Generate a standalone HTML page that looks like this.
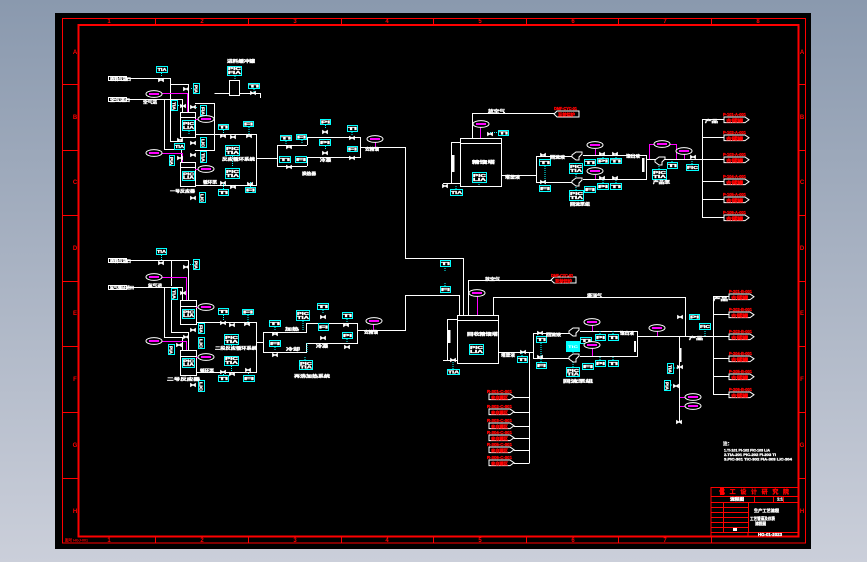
<!DOCTYPE html>
<html>
<head>
<meta charset="utf-8">
<style>
html,body{margin:0;padding:0;width:867px;height:562px;overflow:hidden;background:#a8b2c2}
svg{display:block}
text{font-family:"Liberation Sans","Noto Sans CJK SC",sans-serif;font-weight:bold}
.w{stroke:#fff;stroke-width:1;fill:none;shape-rendering:crispEdges}
.m{stroke:#f0f;stroke-width:1;fill:none;shape-rendering:crispEdges}
.r{stroke:#f00;fill:none;shape-rendering:crispEdges}
.c rect{stroke:#0ff;stroke-width:1;fill:#000;shape-rendering:crispEdges}
.t text{fill:#fff;stroke:#fff;stroke-width:.35px;font-size:4.2px}
.lr text{fill:#f00;stroke:#f00;stroke-width:.35px;font-size:4.2px}
.z text{fill:#f00;font-size:6px;text-anchor:middle}
.d{stroke:#0ff;stroke-width:1;stroke-dasharray:1 1;fill:none;shape-rendering:crispEdges}
</style>
</head>
<body>
<svg width="867" height="562" viewBox="0 0 867 562" xmlns="http://www.w3.org/2000/svg">
<defs>
<linearGradient id="bg" x1="0" y1="0" x2="0" y2="1"><stop offset="0" stop-color="#8a99ae"/><stop offset="1" stop-color="#cbcfda"/></linearGradient>
<path id="v" d="M-2.5-1.5L2.5 1.5V-1.5L-2.5 1.5Z" fill="#fff" stroke="#fff" stroke-width=".8"/>
<g id="e"><ellipse rx="8" ry="3.4" fill="#000" stroke="#fff" stroke-width="1"/><rect x="-5" y="-1" width="10" height="2" fill="#f0f" shape-rendering="crispEdges"/></g>
<path id="ol" d="M0 0h21l4 2.8l-4 2.8h-21z" fill="#000" stroke="#fff" stroke-width="1"/>
<path id="pu" d="M0 4l4-3h6v2l-3 3v3h-3l-4-3z" fill="#000" stroke="#fff" stroke-width="1"/>
</defs>
<rect width="867" height="562" fill="url(#bg)"/>
<rect x="55" y="13" width="756" height="536" fill="#000"/>

<!-- frames -->
<rect class="r" x="62.500" y="18.500" width="743" height="524.500" stroke-width="1"/>
<rect class="r" x="78.500" y="25" width="720" height="511.500" stroke-width="2"/>
<path class="r" stroke-width="1" d="M155.500 18v7M248.500 18v7M341.500 18v7M433.500 18v7M526.500 18v7M618.500 18v7M711.500 18v7M155.500 536v7M248.500 536v7M341.500 536v7M433.500 536v7M526.500 536v7M618.500 536v7M711.500 536v7M62 84.500h16M62 150.500h16M62 215.500h16M62 281.500h16M62 346.500h16M62 412.500h16M62 478.500h16M798 84.500h8M798 150.500h8M798 215.500h8M798 281.500h8M798 346.500h8M798 412.500h8M798 478.500h8"/>
<g class="z">
<text x="109" y="23">1</text><text x="202" y="23">2</text><text x="295" y="23">3</text><text x="387" y="23">4</text><text x="480" y="23">5</text><text x="573" y="23">6</text><text x="665" y="23">7</text><text x="758" y="23">8</text>
<text x="109" y="542">1</text><text x="202" y="542">2</text><text x="295" y="542">3</text><text x="387" y="542">4</text><text x="480" y="542">5</text><text x="573" y="542">6</text><text x="665" y="542">7</text>
<text x="75" y="54">A</text><text x="75" y="119">B</text><text x="75" y="184">C</text><text x="75" y="250">D</text><text x="75" y="315">E</text><text x="75" y="381">F</text><text x="75" y="447">G</text><text x="75" y="513">H</text>
<text x="802" y="54">A</text><text x="802" y="119">B</text><text x="802" y="184">C</text><text x="802" y="250">D</text><text x="802" y="315">E</text><text x="802" y="381">F</text><text x="802" y="447">G</text><text x="802" y="513">H</text>
</g>
<text x="65" y="541.500" fill="#f00" style="font-size:4px" textLength="23">图号 HGJ-001</text>

<!-- white process lines -->
<path class="w" d="M126 78.500H170.500V141.500H182M170.500 84.500H188.500V112M126 99.500H182.500V112M164.500 99.500V149.500H181.500V162
M180.500 112.500h15v25h-15zM180.500 117.500h15M180.500 162.500h15v24h-15zM180.500 167.500h15
M195 103.500H214.500V150.500H195M214.500 93.500H229M229.500 80.500h10v15h-10zM239 93.500H260.500V98
M195 134.500H256.500V185.500H195M256 158.500H277.500M277.500 145.500V166.500M277 145.500H307M277 166.500H307
M307.500 137.500V145M307.500 157.500V166M307 137.500H360.500V157.500H307M360 147.500H405.500V258.500H463.500V315
M126 260.500H188.500V300M171.500 260.500V286M171.500 295V332.500H188.500V350M126 287.500H182.500V300M164.500 287.500V337.500H182.500V350
M180.500 300.500h16v24h-16zM180.500 306.500h16M180.500 350.500h16v25h-16zM180.500 356.500h16
M196 322.500H256.500V372.500H196M256 342.500H263.500M263.500 332.500V352.500M263 332.500H306.500V323.500H357.500V343.500H306.500V352.500H263
M357 330.500H405.500V295.500H459.500V315
M472.500 138V113.500H554M460.500 138.500h41v48h-41zM460.500 143.500h41M460 142.500H451.500V183.500M443 183.500H460
M501 175.500H536.500M536.500 156V182M536 156.500H573M536 182.500H573M583 155.500H646.500V179.500H583M646 159.500H702.500M702.500 119V217.500
M702 119.500H724M702 137.500H724M702 181.500H724M702 199.500H724M702 217.500H724M702 159.500H724
M468.500 315V280.500H551M457.500 315.500h41v48h-41zM457.500 320.500h41M457 319.500H447.500V360.500M443 360.500H457M493.500 315V297.500H685.500V336
M498 352.500H533.500M533.500 333V358M533 333.500H573M533 358.500H573M580 331.500H637.500V356.500H580M637 336.500H713.500M713.500 296V394.500
M713 296.500H729M713 314.500H729M713 336.500H729M713 358.500H729M713 376.500H729M713 394.500H729
M679.500 336V422M529.500 352V463.500M514 397.500H529M514 412.500H529M514 426.500H529M514 438.500H529M514 450.500H529M514 463.500H529"/>

<!-- magenta lines -->
<path class="m" d="M162 93.500H187.500V112M162 153.500H182.500V162M198 119.500H195M198 169.500H195M375.500 142V147M162 277.500H186.500V300M162 341.500H186.500V350M198 307.500H196M198 357.500H196M373.500 324V330M480.500 127V138M477.500 296V315M595.500 149V155M595.500 175V179M592.500 325V331M592.500 348V356M649.500 159V144.500H676.500V159M684.500 154V159M657.500 331V336M680 397.500H686M680 406.500H686"/>

<!-- cyan instrument leaders -->
<path class="d" d="M161.500 73V77M200 88.500H190M235 76V80M254 89V92M197 107.500H192M178 105.500H183M223.500 130V134M249 127V134M189 131V134M232.500 156V160M232.500 161V167M223.500 184V189M250.500 182V187M203 202V199M325.500 125V129M325.500 146V150M286 141V145M302 140V144M352 132V136M352 147V152M161.500 255V260M193 264.500H190M223.500 315V320M248 315V322M231.500 345V349M231.500 366V372M223.500 375V372M248.500 376V373M275 327V331M275 347V351M303 321V330M323 310V314M347 319V323M347 339V343M305 370V356M307 343V352M490 132.500H498M456 189V186M479 172V186M545 166V182M576 174V177M576 190V187M603 164V157M616 164V157M603 183V180M616 183V180M659 169V163M672 162V160M692 164V160M445 266V272M445 286V282M453 369V362M476 344V355M541 343V358M541 362V358M573 367V362M573 352V358M600 334V331M613 334V331M600 360V357M613 360V357M522 356V353M705 323V336M695 317H690M674 368H677M671 385H674"/>

<!-- valves -->
<g>
<use href="#v" x="161" y="80"/><use href="#v" x="186" y="89"/><use href="#v" x="183" y="106"/><use href="#v" x="193" y="107"/><use href="#v" x="193" y="143"/><use href="#v" x="180" y="140"/><use href="#v" x="193" y="155"/><use href="#v" x="180" y="158"/><use href="#v" x="193" y="198"/><use href="#v" x="223" y="136"/><use href="#v" x="233" y="137"/><use href="#v" x="249" y="136"/><use href="#v" x="223" y="183"/><use href="#v" x="233" y="187"/><use href="#v" x="250" y="184"/><use href="#v" x="289" y="147"/><use href="#v" x="289" y="167"/><use href="#v" x="325" y="132"/><use href="#v" x="325" y="153"/><use href="#v" x="352" y="138"/><use href="#v" x="352" y="158"/><use href="#v" x="253" y="93"/>
<use href="#v" x="161" y="263"/><use href="#v" x="186" y="267"/><use href="#v" x="183" y="293"/><use href="#v" x="193" y="330"/><use href="#v" x="186" y="337"/><use href="#v" x="179" y="345"/><use href="#v" x="193" y="385"/><use href="#v" x="223" y="323"/><use href="#v" x="232" y="325"/><use href="#v" x="247" y="324"/><use href="#v" x="223" y="372"/><use href="#v" x="232" y="374"/><use href="#v" x="248" y="370"/><use href="#v" x="275" y="334"/><use href="#v" x="275" y="355"/><use href="#v" x="323" y="317"/><use href="#v" x="323" y="338"/><use href="#v" x="346" y="325"/><use href="#v" x="347" y="347"/>
<use href="#v" x="543" y="155"/><use href="#v" x="543" y="182"/><use href="#v" x="490" y="134"/><use href="#v" x="445" y="186"/><use href="#v" x="602" y="154"/><use href="#v" x="615" y="154"/><use href="#v" x="602" y="178"/><use href="#v" x="615" y="178"/><use href="#v" x="693" y="157"/>
<use href="#v" x="523" y="352"/><use href="#v" x="453" y="360"/><use href="#v" x="540" y="333"/><use href="#v" x="540" y="357"/><use href="#v" x="680" y="317"/><use href="#v" x="680" y="367"/><use href="#v" x="676" y="386"/><use href="#v" x="679" y="422"/>
</g>
<rect x="642" y="158" width="2.500" height="14" fill="#fff"/><rect x="634" y="341" width="2" height="11" fill="#fff"/><rect x="679" y="348" width="2.500" height="14" fill="#fff"/><rect x="452" y="155" width="2.500" height="17" fill="#fff"/><rect x="448" y="330" width="2.500" height="13" fill="#fff"/>

<!-- pumps -->
<use href="#pu" x="572" y="151"/><use href="#pu" x="572" y="177"/><use href="#pu" x="569" y="327"/><use href="#pu" x="569" y="353"/><use href="#pu" x="655" y="156"/>

<!-- instrument boxes -->
<g class="c">
<rect x="156.500" y="66.500" width="11" height="6"/><rect x="227.500" y="66.500" width="14" height="9"/><rect x="248.500" y="83.500" width="11" height="5"/><rect x="193.500" y="83.500" width="6" height="10"/><rect x="171.500" y="100.500" width="6" height="10"/><rect x="200.500" y="105.500" width="6" height="10"/><rect x="182.500" y="120.500" width="12" height="10"/><rect x="218.500" y="124.500" width="10" height="5"/><rect x="243.500" y="121.500" width="10" height="5"/><rect x="200.500" y="137.500" width="6" height="10"/><rect x="174.500" y="143.500" width="10" height="6"/><rect x="225.500" y="145.500" width="14" height="10"/><rect x="200.500" y="151.500" width="6" height="11"/><rect x="169.500" y="155.500" width="5" height="10"/><rect x="182.500" y="171.500" width="12" height="9"/><rect x="225.500" y="168.500" width="14" height="10"/><rect x="218.500" y="189.500" width="10" height="6"/><rect x="245.500" y="187.500" width="10" height="5"/><rect x="199.500" y="192.500" width="6" height="10"/>
<rect x="320.500" y="119.500" width="10" height="5"/><rect x="280.500" y="135.500" width="11" height="5"/><rect x="296.500" y="134.500" width="10" height="5"/><rect x="319.500" y="139.500" width="11" height="6"/><rect x="347.500" y="125.500" width="10" height="6"/><rect x="347.500" y="146.500" width="10" height="5"/><rect x="279.500" y="156.500" width="11" height="6"/><rect x="295.500" y="156.500" width="11" height="6"/>
<rect x="156.500" y="248.500" width="10" height="6"/><rect x="193.500" y="259.500" width="6" height="10"/><rect x="171.500" y="288.500" width="6" height="11"/><rect x="182.500" y="309.500" width="12" height="9"/><rect x="198.500" y="323.500" width="6" height="10"/><rect x="218.500" y="308.500" width="10" height="6"/><rect x="242.500" y="309.500" width="11" height="5"/><rect x="224.500" y="334.500" width="14" height="10"/><rect x="198.500" y="337.500" width="6" height="11"/><rect x="168.500" y="344.500" width="6" height="10"/><rect x="182.500" y="358.500" width="12" height="9"/><rect x="224.500" y="356.500" width="14" height="9"/><rect x="218.500" y="375.500" width="10" height="6"/><rect x="243.500" y="375.500" width="11" height="6"/><rect x="198.500" y="380.500" width="6" height="11"/>
<rect x="269.500" y="320.500" width="11" height="6"/><rect x="269.500" y="340.500" width="11" height="6"/><rect x="296.500" y="310.500" width="13" height="10"/><rect x="317.500" y="303.500" width="11" height="6"/><rect x="318.500" y="323.500" width="10" height="7"/><rect x="342.500" y="312.500" width="10" height="6"/><rect x="342.500" y="332.500" width="10" height="6"/><rect x="299.500" y="360.500" width="13" height="9"/>
<rect x="498.500" y="130.500" width="10" height="5"/><rect x="450.500" y="189.500" width="12" height="6"/><rect x="472.500" y="172.500" width="14" height="10"/><rect x="539.500" y="159.500" width="11" height="6"/><rect x="539.500" y="185.500" width="11" height="6"/><rect x="569.500" y="163.500" width="13" height="10"/><rect x="569.500" y="190.500" width="14" height="10"/><rect x="584.500" y="159.500" width="11" height="6"/><rect x="584.500" y="186.500" width="11" height="6"/><rect x="597.500" y="158.500" width="11" height="5"/><rect x="610.500" y="158.500" width="11" height="5"/><rect x="597.500" y="183.500" width="11" height="6"/><rect x="610.500" y="183.500" width="11" height="6"/><rect x="652.500" y="169.500" width="14" height="10"/><rect x="667.500" y="162.500" width="10" height="6"/><rect x="686.500" y="164.500" width="12" height="6"/>
<rect x="440.500" y="260.500" width="10" height="6"/><rect x="440.500" y="286.500" width="10" height="6"/><rect x="447.500" y="369.500" width="12" height="5"/><rect x="469.500" y="344.500" width="14" height="10"/><rect x="536.500" y="336.500" width="10" height="6"/><rect x="536.500" y="362.500" width="10" height="6"/><rect x="566.500" y="367.500" width="13" height="9"/><rect x="580.500" y="337.500" width="11" height="6"/><rect x="582.500" y="363.500" width="11" height="6"/><rect x="595.500" y="334.500" width="10" height="6"/><rect x="608.500" y="334.500" width="10" height="6"/><rect x="595.500" y="360.500" width="10" height="6"/><rect x="608.500" y="360.500" width="10" height="6"/><rect x="517.500" y="356.500" width="10" height="6"/><rect x="689.500" y="314.500" width="10" height="5"/><rect x="699.500" y="323.500" width="11" height="6"/><rect x="667.500" y="363.500" width="6" height="10"/><rect x="664.500" y="380.500" width="6" height="10"/>
</g>
<rect x="566" y="341" width="14" height="11" fill="#0ff"/>
<text x="568" y="348" fill="#fff" style="font-size:4px" textLength="10">TIC</text>

<!-- box labels (wide) -->
<g class="t">
<text x="157.500" y="71" textLength="9">TIA</text><text x="228" y="70" textLength="13">PIC</text><text x="228" y="74" textLength="13">FIA</text><text x="249" y="87.500" textLength="10">TI</text><text x="183" y="125" textLength="11">PIC</text><text x="183" y="129" textLength="11">LIA</text><text x="219" y="128.500" textLength="9">TI</text><text x="244" y="125.500" textLength="9">FI</text><text x="175" y="148" textLength="9">TIA</text><text x="226" y="150" textLength="13">PIC</text><text x="226" y="154" textLength="13">TIA</text><text x="183" y="175.500" textLength="11">PIC</text><text x="183" y="179" textLength="11">LIA</text><text x="226" y="173" textLength="13">PIC</text><text x="226" y="177" textLength="13">TIA</text><text x="219" y="194" textLength="9">TI</text><text x="246" y="191.500" textLength="9">FI</text>
<text x="321" y="123.500" textLength="9">PI</text><text x="281" y="139.500" textLength="10">TI</text><text x="297" y="138.500" textLength="9">FI</text><text x="320" y="144" textLength="10">PI</text><text x="348" y="130" textLength="9">TI</text><text x="348" y="150.500" textLength="9">FI</text><text x="280" y="161" textLength="10">TI</text><text x="296" y="161" textLength="10">FI</text>
<text x="157" y="253" textLength="9">TIA</text><text x="183" y="313.500" textLength="11">PIC</text><text x="183" y="317" textLength="11">LIA</text><text x="219" y="313" textLength="9">TI</text><text x="243" y="313.500" textLength="10">FI</text><text x="225" y="339" textLength="13">PIC</text><text x="225" y="343" textLength="13">TIA</text><text x="183" y="362.500" textLength="11">PIC</text><text x="183" y="366" textLength="11">LIA</text><text x="225" y="360" textLength="13">PIC</text><text x="225" y="364" textLength="13">TIA</text><text x="219" y="380" textLength="9">TI</text><text x="244" y="380" textLength="10">FI</text>
<text x="270" y="325" textLength="10">TI</text><text x="270" y="345" textLength="10">FI</text><text x="297" y="315" textLength="12">PIC</text><text x="297" y="319" textLength="12">TIA</text><text x="318" y="308" textLength="10">TI</text><text x="319" y="328.500" textLength="9">FI</text><text x="343" y="317" textLength="9">TI</text><text x="343" y="337" textLength="9">PI</text><text x="300" y="365" textLength="12">PIC</text><text x="300" y="368.500" textLength="12">TIA</text>
<text x="499" y="134.500" textLength="9">TI</text><text x="451" y="194" textLength="11">TIA</text><text x="473" y="177" textLength="13">PIC</text><text x="473" y="181" textLength="13">LIA</text><text x="540" y="164" textLength="10">TI</text><text x="540" y="190" textLength="10">FI</text><text x="570" y="168" textLength="12">PIC</text><text x="570" y="172" textLength="12">TIA</text><text x="570" y="195" textLength="13">PIC</text><text x="570" y="199" textLength="13">TIA</text><text x="585" y="164" textLength="10">TI</text><text x="585" y="191" textLength="10">FI</text><text x="598" y="162.500" textLength="10">PI</text><text x="611" y="162.500" textLength="10">TI</text><text x="598" y="188" textLength="10">PI</text><text x="611" y="188" textLength="10">TI</text><text x="653" y="174" textLength="13">PIC</text><text x="653" y="178" textLength="13">TIA</text><text x="668" y="167" textLength="9">TI</text><text x="687" y="169" textLength="11">FIC</text>
<text x="441" y="265" textLength="9">TI</text><text x="441" y="291" textLength="9">FI</text><text x="448" y="373.500" textLength="11">TIA</text><text x="470" y="349" textLength="13">PIC</text><text x="470" y="353" textLength="13">LIA</text><text x="537" y="341" textLength="9">TI</text><text x="537" y="367" textLength="9">FI</text><text x="567" y="372" textLength="12">PIC</text><text x="567" y="375.500" textLength="12">TIA</text><text x="581" y="342" textLength="10">TI</text><text x="583" y="368" textLength="10">FI</text><text x="596" y="339" textLength="9">PI</text><text x="609" y="339" textLength="9">TI</text><text x="596" y="365" textLength="9">PI</text><text x="609" y="365" textLength="9">TI</text><text x="518" y="361" textLength="9">TI</text><text x="690" y="318.500" textLength="9">PI</text><text x="700" y="328" textLength="10">FIC</text>

<!-- tall box labels -->
<text transform="translate(194.500,85) rotate(90)" textLength="8">PIA</text><text transform="translate(172.500,102) rotate(90)" textLength="8">TIA</text><text transform="translate(201.500,107) rotate(90)" textLength="8">FIA</text><text transform="translate(201.500,139) rotate(90)" textLength="8">LIC</text><text transform="translate(201.500,153) rotate(90)" textLength="9">TIA</text><text transform="translate(170,157) rotate(90)" textLength="8">PIA</text><text transform="translate(200.500,194) rotate(90)" textLength="8">LIC</text>
<text transform="translate(194.500,261) rotate(90)" textLength="8">PIA</text><text transform="translate(172.500,290) rotate(90)" textLength="9">TIA</text><text transform="translate(199.500,325) rotate(90)" textLength="8">FIA</text><text transform="translate(199.500,339) rotate(90)" textLength="9">LIC</text><text transform="translate(169.500,346) rotate(90)" textLength="8">PIA</text><text transform="translate(199.500,382) rotate(90)" textLength="9">LIC</text><text transform="translate(668.500,365) rotate(90)" textLength="8">TIA</text><text transform="translate(665.500,382) rotate(90)" textLength="8">PIA</text>

<!-- loose labels -->
<text x="227" y="62.500" textLength="28">进料缓冲罐</text><text x="222" y="160.500" textLength="33">反应循环系统</text><text x="203" y="183.500" textLength="14">循环泵</text><text x="170" y="192.500" textLength="25">一号反应器</text><text x="302" y="175" textLength="14">换热器</text><text x="320" y="161.500" textLength="11">冷凝</text><text x="365" y="150.500" textLength="14">去精馏</text><text x="143" y="103.500" textLength="14">空气进</text>
<text x="215" y="349.500" textLength="42">二段反应循环系统</text><text x="167" y="380.500" textLength="33">二号反应器</text><text x="294" y="377.500" textLength="36">再沸加热系统</text><text x="200" y="372" textLength="14">循环泵</text><text x="285" y="330.500" textLength="14">加热</text><text x="286" y="350.500" textLength="14">冷却</text><text x="316" y="347.500" textLength="12">冷凝</text><text x="364" y="333.500" textLength="14">去精馏</text><text x="148" y="287" textLength="14">氮气进</text>
<text x="488" y="112.500" textLength="17">放空气</text><text x="472" y="163.500" textLength="23">精馏塔</text><text x="505" y="178.500" textLength="15">塔釜液</text><text x="550" y="158.500" textLength="15">回流液</text><text x="626" y="157.500" textLength="14">馏出液</text><text x="570" y="205.500" textLength="20">回流泵组</text><text x="653" y="183.500" textLength="17">产品泵</text><text x="705" y="122.500" textLength="13">产品</text>
<text x="485" y="280.500" textLength="15">放空气</text><text x="587" y="297" textLength="15">塔顶气</text><text x="467" y="335.500" textLength="31">回收精馏塔</text><text x="501" y="356.500" textLength="14">塔釜液</text><text x="546" y="336" textLength="15">回流液</text><text x="620" y="334.500" textLength="14">馏出液</text><text x="689" y="339.500" textLength="14">产品</text><text x="563" y="382.500" textLength="30">回流泵组</text><text x="713" y="300.500" textLength="15">产品</text>
<text x="724" y="451.500" textLength="46" style="font-size:4px">1.TI-101 PI-102 FIC-103 LIA</text><text x="724" y="456" textLength="52" style="font-size:4px">2.TIA-201 PIC-202 FI-203 TI</text><text x="724" y="460.500" textLength="68" style="font-size:4px">3.PIC-301 TIC-302 FIA-303 LIC-304</text><text x="723" y="445" textLength="9">注：</text>
</g>

<!-- ellipses -->
<g>
<use href="#e" x="154" y="94"/><use href="#e" x="154" y="153"/><use href="#e" x="206" y="119"/><use href="#e" x="206" y="169"/><use href="#e" x="375" y="139"/>
<use href="#e" x="154" y="277"/><use href="#e" x="154" y="341"/><use href="#e" x="206" y="307"/><use href="#e" x="206" y="357"/><use href="#e" x="374" y="321"/>
<use href="#e" x="481" y="124"/><use href="#e" x="595" y="145"/><use href="#e" x="595" y="171"/><use href="#e" x="662" y="144"/><use href="#e" x="684" y="151"/>
<use href="#e" x="477" y="293"/><use href="#e" x="592" y="322"/><use href="#e" x="592" y="345"/><use href="#e" x="657" y="328"/><use href="#e" x="693" y="397"/><use href="#e" x="693" y="406"/>
</g>

<!-- input boxes -->
<rect x="108.500" y="76.500" width="18" height="4" fill="#000" stroke="#fff"/><rect x="108.500" y="97.500" width="18" height="4" fill="#000" stroke="#fff"/><rect x="108.500" y="258.500" width="18" height="4" fill="#000" stroke="#fff"/><rect x="108.500" y="285.500" width="18" height="4" fill="#000" stroke="#fff"/>
<g class="t"><text x="110" y="80.500" textLength="21">原料气进口</text><text x="110" y="101.500" textLength="20">空气进口</text><text x="110" y="262.500" textLength="21">原料气进口</text><text x="110" y="289" textLength="24">氮气循环进口</text></g>

<!-- outlets -->
<path d="M554 114l3-3h22v6h-22z M551 280l3-3h22v6h-22z" fill="#000" stroke="#fff"/>
<g>
<use href="#ol" x="724" y="117"/><use href="#ol" x="724" y="135"/><use href="#ol" x="724" y="157"/><use href="#ol" x="724" y="179"/><use href="#ol" x="724" y="197"/><use href="#ol" x="724" y="215"/>
<use href="#ol" x="729" y="294"/><use href="#ol" x="729" y="312"/><use href="#ol" x="729" y="334"/><use href="#ol" x="729" y="356"/><use href="#ol" x="729" y="374"/><use href="#ol" x="729" y="392"/>
<use href="#ol" x="489" y="394"/><use href="#ol" x="489" y="409"/><use href="#ol" x="489" y="423"/><use href="#ol" x="489" y="435"/><use href="#ol" x="489" y="447"/><use href="#ol" x="489" y="460"/>
</g>
<g class="lr">
<text x="554" y="110" textLength="23">DMF-CYC-01</text><text x="558" y="116" textLength="17">至焚烧炉</text><text x="551" y="277" textLength="22">DMF-CYC-02</text><text x="555" y="282.500" textLength="17">至焚烧炉</text>
<text x="723" y="116" textLength="23">P-101-A-001</text><text x="726" y="122" textLength="17">去储罐</text><text x="723" y="134" textLength="23">P-102-A-001</text><text x="726" y="140" textLength="17">去储罐</text><text x="723" y="156" textLength="23">P-103-A-001</text><text x="726" y="162" textLength="17">去储罐</text><text x="723" y="178" textLength="23">P-104-A-001</text><text x="726" y="184" textLength="17">去储罐</text><text x="723" y="196" textLength="23">P-105-A-001</text><text x="726" y="202" textLength="17">去储罐</text><text x="723" y="214" textLength="23">P-106-A-001</text><text x="726" y="220" textLength="17">去储罐</text>
<text x="729" y="293" textLength="23">P-201-B-001</text><text x="731" y="299" textLength="17">去储罐</text><text x="729" y="311" textLength="23">P-202-B-001</text><text x="731" y="317" textLength="17">去储罐</text><text x="729" y="333" textLength="23">P-203-B-001</text><text x="731" y="339" textLength="17">去储罐</text><text x="729" y="355" textLength="23">P-204-B-001</text><text x="731" y="361" textLength="17">去储罐</text><text x="729" y="373" textLength="23">P-205-B-001</text><text x="731" y="379" textLength="17">去储罐</text><text x="729" y="391" textLength="23">P-206-B-001</text><text x="731" y="397" textLength="17">去储罐</text>
<text x="487" y="393" textLength="25">R-301-C-001</text><text x="491" y="399" textLength="17">来自罐区</text><text x="487" y="408" textLength="25">R-302-C-001</text><text x="491" y="414" textLength="17">来自罐区</text><text x="487" y="422" textLength="25">R-303-C-001</text><text x="491" y="428" textLength="17">来自罐区</text><text x="487" y="434" textLength="25">R-304-C-001</text><text x="491" y="440" textLength="17">来自罐区</text><text x="487" y="446" textLength="25">R-305-C-001</text><text x="491" y="452" textLength="17">来自罐区</text><text x="487" y="459" textLength="25">R-306-C-001</text><text x="491" y="465" textLength="17">来自罐区</text>
</g>

<!-- title block -->
<rect class="r" x="711" y="487.500" width="87" height="49" stroke-width="1"/>
<path class="r" stroke-width="1" d="M711 496.500H798M711 502.500H798M711 507.500H748M711 512.500H748M711 517.500H748M711 522.500H748M711 527.500H748M711 532.500H798M723.500 502V532M748.500 502V532M754.500 496V502M773.500 496V502M783.500 496V502M748 532.500V536M773.500 532V536"/>
<text x="719" y="494" fill="#f00" stroke="#f00" stroke-width=".3" style="font-size:6px" textLength="70" data-keep="1">化工设计研究院</text>
<rect x="720" y="488" width="4" height="7" fill="#f00"/>
<g class="t"><text x="730" y="500.500" textLength="14">流程图</text><text x="777" y="500.500" textLength="6">1:1</text><text x="754" y="512" textLength="25">生产工艺流程</text><text x="750" y="520" textLength="25">工艺管道及仪表</text><text x="755" y="525" textLength="11">流程图</text><text x="758" y="536" textLength="24">HG-01-2023</text></g>
<rect x="733" y="528" width="4" height="3" fill="#fff"/>
</svg>
<script>
document.querySelectorAll('text[textLength]').forEach(function(t){if(!t.hasAttribute('data-keep'))t.setAttribute('lengthAdjust','spacingAndGlyphs');});
</script>
</body>
</html>
